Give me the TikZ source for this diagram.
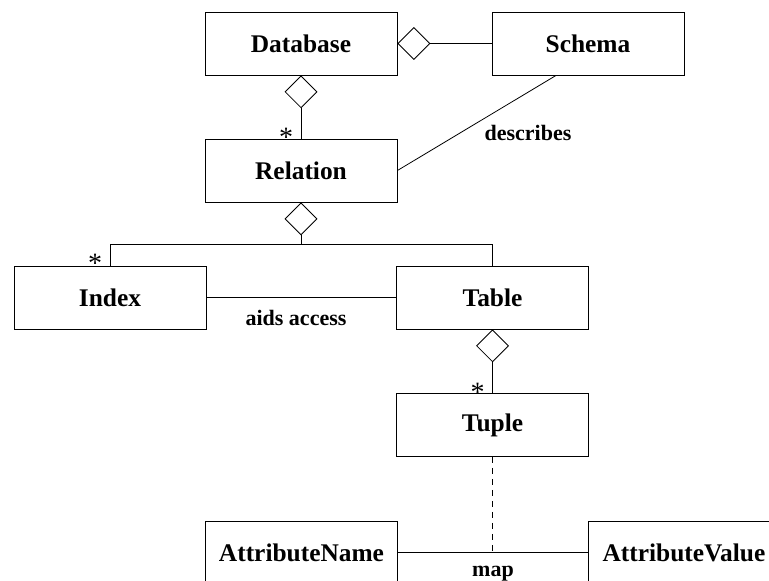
\documentclass[tikz,border=0pt]{standalone}
\usepackage{fontspec}
\setmainfont{Liberation Serif}
\usetikzlibrary{shapes.geometric,calc}
\begin{document}
\begin{tikzpicture}[x=1pt,y=-1pt,
  cls/.style={draw, line width=0.9pt, minimum width=192pt, minimum height=63pt,
    inner sep=0pt, font=\fontsize{25.4}{30}\selectfont\bfseries},
  agg/.style={draw, diamond, fill=white, minimum width=32pt, minimum height=32pt,
    inner sep=0pt, line width=0.8pt},
  conn/.style={line width=0.8pt},
  dep/.style={conn, dash pattern=on 6pt off 5pt},
  lbl/.style={font=\fontsize{22}{26}\selectfont\bfseries, inner sep=0pt},
  mult/.style={font=\fontsize{28}{32}\selectfont, inner sep=0pt, anchor=base}]

\useasboundingbox (0,0) rectangle (769,581);

% classes
\node[cls] (db)  at (301,43.5)    {Database};
\node[cls] (sch) at (588,43.5)    {Schema};
\node[cls] (rel) at (301,170.5)   {Relation};
\node[cls] (idx) at (110,297.5)   {Index};
\node[cls] (tab) at (492.5,297.5) {Table};
\node[cls] (tup) at (492.5,425)   {Tuple};
\node[cls] (an)  at (301.5,552.5) {AttributeName};
\node[cls] (av)  at (684,552.5)   {AttributeValue};

% aggregation diamonds on the owning side
\node[agg, anchor=north] (d1) at (db.south)  {};
\node[agg, anchor=west]  (d2) at (db.east)   {};
\node[agg, anchor=north] (d3) at (rel.south) {};
\node[agg, anchor=north] (d4) at (tab.south) {};

% aggregations
\draw[conn] (d1.south) -- (rel.north);
\draw[conn] (d2.east) -- (sch.west);
\coordinate (fork) at ($(d3.south)+(0,9)$);
\draw[conn] (d3.south) -- (fork);
\draw[conn] (idx.north) |- (fork) -| (tab.north);
\draw[conn] (d4.south) -- (tup.north);

% associations
\coordinate (sfoot) at ($(sch.south)+(-32,0)$);
\draw[conn] (sfoot) -- (rel.east);
\draw[conn] (idx.east) -- (tab.west);
\draw[conn] (an.east) -- (av.west);
\coordinate (mapmid) at (tup.south |- an.east);
\draw[dep] (tup.south) -- (mapmid);

% association names
\node[lbl] (describes) at (528,133) {describes};
\node[lbl] (aids)      at (296,318) {aids access};
\node[lbl] (map)       at (493,574) {map};

% multiplicities
\node[mult] (m1) at ($(rel.north)+(-15,8)$) {*};
\node[mult] (m2) at ($(idx.north)+(-15,7)$) {*};
\node[mult] (m3) at ($(tup.north)+(-15,8)$) {*};
\end{tikzpicture}
\end{document}
